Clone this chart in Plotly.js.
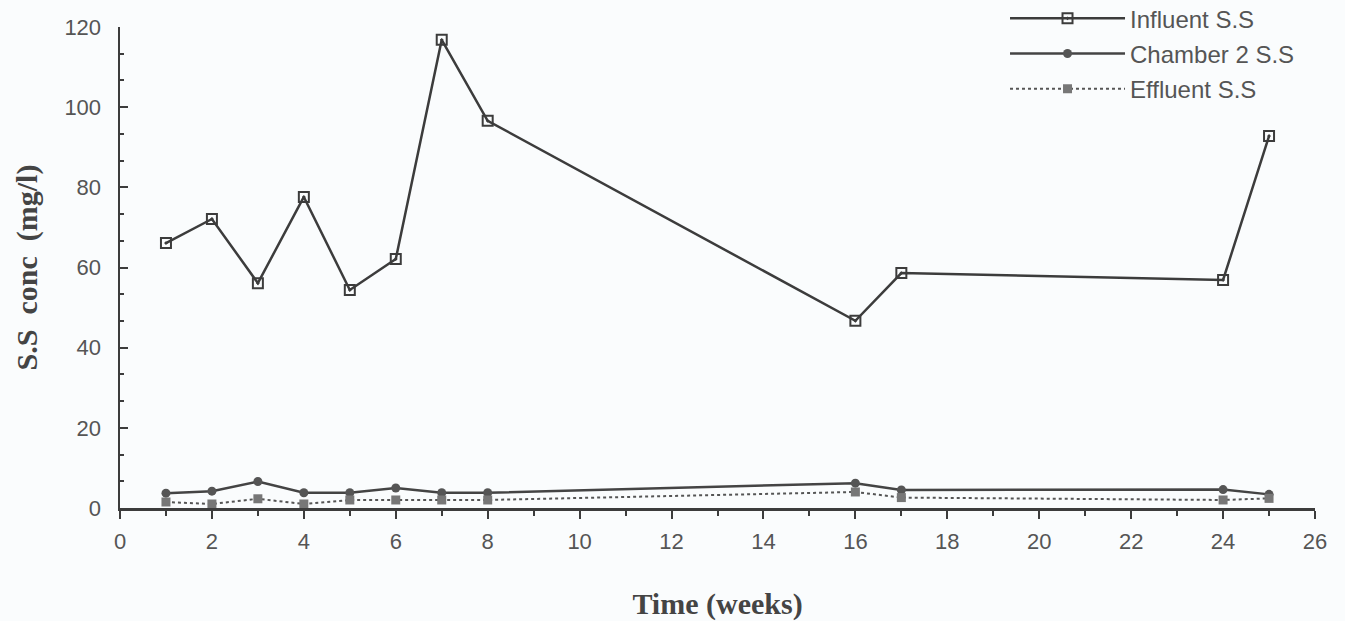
<!DOCTYPE html>
<html><head><meta charset="utf-8">
<script src="https://cdn.plot.ly/plotly-3.0.1.min.js"></script>
<style>html,body{margin:0;padding:0;background:#fafcfd;}#chart{width:1345px;height:621px;}</style>
</head><body><div id="chart"></div>
<script>
const weeks = [1, 2, 3, 4, 5, 6, 7, 8, 16, 17, 24, 25];
const influentSS = [66.1, 72.1, 56.1, 77.6, 54.4, 62.1, 116.8, 96.6, 46.7, 58.6, 56.9, 92.8];
const chamber2SS = [3.7, 4.2, 6.6, 3.8, 3.8, 5.0, 3.8, 3.8, 6.2, 4.5, 4.6, 3.4];
const effluentSS = [1.5, 1.0, 2.3, 1.0, 2.0, 2.0, 2.0, 2.0, 4.0, 2.6, 2.0, 2.4];
const seriesNames = ['Influent S.S', 'Chamber 2 S.S', 'Effluent S.S'];
const xTicks = [0, 2, 4, 6, 8, 10, 12, 14, 16, 18, 20, 22, 24, 26];
const yTicks = [0, 20, 40, 60, 80, 100, 120];

const dark = '#3c3c3c';
const traces = [
  {x: weeks, y: influentSS, name: seriesNames[0], legendgroup: 'a', type: 'scatter', mode: 'lines+markers',
   line: {color: dark, width: 2.5},
   marker: {symbol: 'square-open-dot', size: 10, color: dark, line: {width: 2, color: dark}}},
  {x: weeks, y: chamber2SS, name: seriesNames[1], legendgroup: 'b', type: 'scatter', mode: 'lines+markers',
   line: {color: '#444', width: 2.5},
   marker: {symbol: 'circle', size: 9, color: '#555'}},
  {x: weeks, y: effluentSS, name: seriesNames[2], legendgroup: 'c', type: 'scatter', mode: 'lines+markers',
   line: {color: '#555', width: 2, dash: 'dot'},
   marker: {symbol: 'square', size: 9, color: '#777'}}
];

const tickFont = {family: 'Liberation Sans, Arial, sans-serif', size: 22, color: '#555'};
const titleFont = {family: 'Liberation Serif, Times New Roman, serif', size: 30, color: '#444', weight: 'bold'};
const layout = {
  width: 1345, height: 621,
  paper_bgcolor: '#fafcfd', plot_bgcolor: '#fafcfd',
  margin: {l: 120, r: 30, t: 27, b: 113, autoexpand: false},
  showlegend: true,
  legend: {x: 0.7406, xanchor: 'left', y: 1.064, yanchor: 'top', bgcolor: 'rgba(0,0,0,0)',
           font: {family: 'Liberation Sans, Arial, sans-serif', size: 24, color: '#555'},
           itemwidth: 115, tracegroupgap: 1, traceorder: 'grouped'},
  xaxis: {range: [0, 26], tickvals: xTicks, ticktext: xTicks.map(String),
          showgrid: false, zeroline: false, showline: true, linecolor: dark, linewidth: 2.5,
          ticks: 'outside', ticklen: 8, tickwidth: 2, tickcolor: dark,
          minor: {dtick: 1, ticks: 'outside', ticklen: 5, tickwidth: 2, tickcolor: dark},
          tickfont: tickFont, ticklabelstandoff: 4,
          title: {text: 'Time (weeks)', standoff: 40, font: titleFont}},
  yaxis: {range: [0, 120], tickvals: yTicks, ticktext: yTicks.map(String),
          showgrid: false, zeroline: false, showline: true, linecolor: dark, linewidth: 2.5,
          ticks: 'inside', ticklen: 8, tickwidth: 2, tickcolor: dark,
          minor: {dtick: 20/3, ticks: 'inside', ticklen: 4, tickwidth: 2, tickcolor: dark},
          tickfont: tickFont, ticklabelstandoff: 12,
          title: {text: 'S.S  conc  (mg/l)', standoff: 18, font: titleFont}}
};
Plotly.newPlot('chart', traces, layout, {displayModeBar: false, staticPlot: true});
</script></body></html>
